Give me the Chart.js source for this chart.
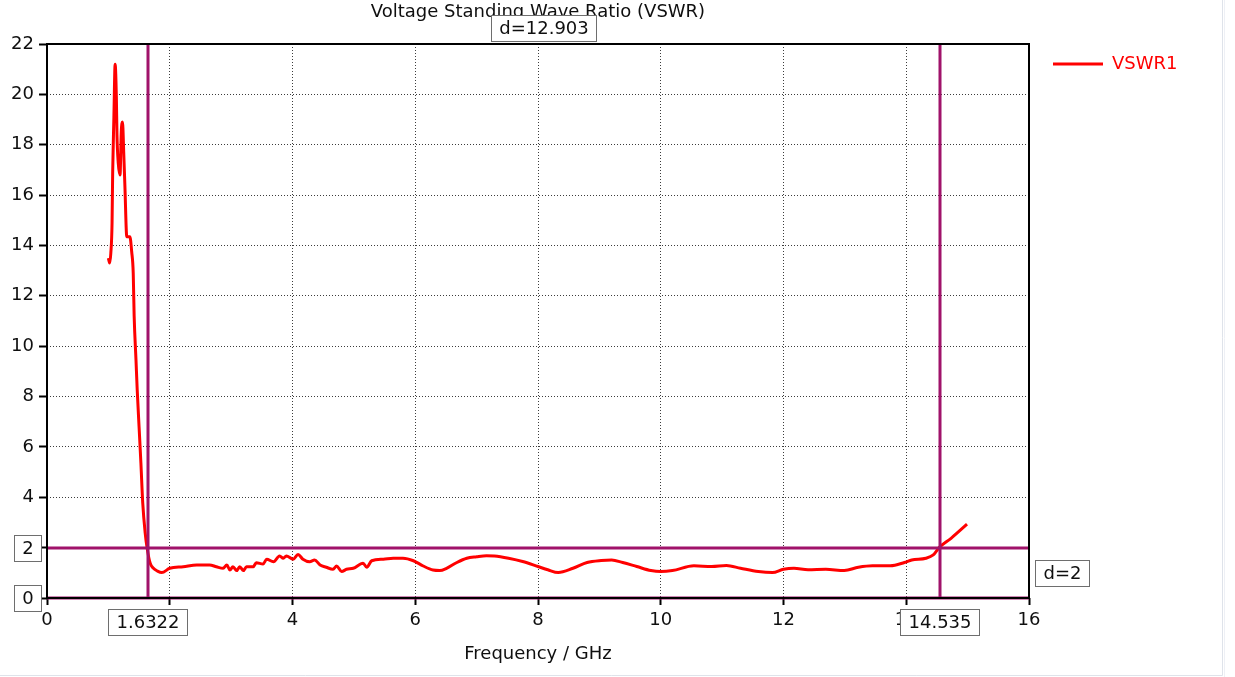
<!DOCTYPE html>
<html>
<head>
<meta charset="utf-8">
<title>Voltage Standing Wave Ratio (VSWR)</title>
<script src="https://cdn.jsdelivr.net/npm/chart.js@4/dist/chart.umd.min.js"></script>
<style>
  html, body { margin: 0; padding: 0; background: #ffffff; }
  #wrap { width: 1235px; height: 677px; position: relative; }
  canvas { display: block; }
</style>
</head>
<body>
<div id="wrap"><canvas id="vswr" width="1235" height="677"></canvas></div>
<script>
// Frequency sweep (GHz) and the measured VSWR at each frequency
const freqGHz = [
  1.00, 1.02, 1.04, 1.06, 1.07, 1.09, 1.11, 1.13, 1.14, 1.16, 1.19, 1.21, 1.23, 1.25, 1.27,
  1.30, 1.35, 1.38, 1.405, 1.42, 1.45, 1.47, 1.50, 1.53, 1.56, 1.60, 1.63, 1.68, 1.73, 1.80,
  1.87, 2.00, 2.22, 2.44, 2.65, 2.76, 2.87, 2.93, 2.98, 3.03, 3.09, 3.14, 3.20, 3.25, 3.36,
  3.41, 3.52, 3.58, 3.69, 3.79, 3.85, 3.90, 4.01, 4.09, 4.17, 4.28, 4.36, 4.45, 4.55, 4.66,
  4.72, 4.80, 4.88, 4.99, 5.15, 5.21, 5.29, 5.48, 5.64, 5.80, 5.97, 6.13, 6.29, 6.40, 6.51,
  6.67, 6.84, 7.00, 7.16, 7.29, 7.52, 7.75, 8.00, 8.16, 8.33, 8.57, 8.80, 9.03, 9.20, 9.38,
  9.61, 9.84, 10.00, 10.19, 10.54, 10.83, 11.07, 11.30, 11.59, 11.82, 12.00, 12.17, 12.40, 12.69, 12.99,
  13.22, 13.45, 13.74, 13.97, 14.09, 14.32, 14.44, 14.535, 14.73, 14.99
];
const vswr1 = [
  13.5, 13.3, 13.7, 14.9, 16.9, 19.1, 21.2, 19.9, 18.4, 17.3, 16.8, 18.5, 18.9, 17.7, 16.3,
  14.35, 14.35, 13.75, 12.9, 11.2, 9.45, 8.26, 6.8, 5.36, 3.77, 2.58, 2.0, 1.39, 1.19, 1.07,
  1.01, 1.18, 1.24, 1.31, 1.31, 1.24, 1.18, 1.31, 1.11, 1.24, 1.09, 1.24, 1.09, 1.24, 1.24,
  1.40, 1.35, 1.54, 1.44, 1.67, 1.58, 1.67, 1.54, 1.73, 1.54, 1.44, 1.51, 1.31, 1.22, 1.14,
  1.27, 1.05, 1.14, 1.18, 1.38, 1.22, 1.48, 1.54, 1.58, 1.58, 1.48, 1.27, 1.11, 1.09, 1.18,
  1.40, 1.58, 1.64, 1.68, 1.67, 1.58, 1.45, 1.25, 1.12, 1.01, 1.18, 1.41, 1.49, 1.51, 1.41,
  1.25, 1.09, 1.05, 1.09, 1.28, 1.25, 1.29, 1.18, 1.05, 1.01, 1.14, 1.18, 1.12, 1.14, 1.09,
  1.22, 1.28, 1.28, 1.41, 1.51, 1.58, 1.71, 2.0, 2.37, 2.93
];

// Axis ranges and tick steps
const xRange = [0, 16];
const xStep = 2;
const yRange = [0, 22];
const yStep = 2;

// Cursor markers: two frequency cursors and two VSWR level cursors
const markerFreqs = [1.6322, 14.535];
const markerLevels = [2, 0];

const seriesName = 'VSWR1';
const chartTitle = 'Voltage Standing Wave Ratio (VSWR)';
const xTitle = 'Frequency / GHz';

const FONT = '"DejaVu Sans", Verdana, sans-serif';
const TEXT = '#0f0f0f';
const MARKER = '#a0136a';

function labelBox(ctx, text, cx, cy) {
  ctx.save();
  ctx.font = '18px ' + FONT;
  const w = ctx.measureText(text).width;
  const bw = Math.round(w + 16), bh = 26;
  const x0 = Math.round(cx - bw / 2) + 0.5, y0 = Math.round(cy - bh / 2) + 0.5;
  ctx.fillStyle = '#ffffff';
  ctx.fillRect(x0, y0, bw, bh);
  ctx.strokeStyle = '#6e6e6e';
  ctx.lineWidth = 1;
  ctx.strokeRect(x0, y0, bw, bh);
  ctx.fillStyle = TEXT;
  ctx.textAlign = 'center';
  ctx.textBaseline = 'middle';
  ctx.fillText(text, x0 + bw / 2, y0 + bh / 2 + 1);
  ctx.restore();
}

// Frame, cursor lines, readout boxes, title and legend
const decorations = {
  id: 'decorations',
  afterDatasetsDraw(chart) {
    const { ctx, chartArea: a, scales: { x, y } } = chart;
    ctx.save();
    // cursor lines
    ctx.strokeStyle = MARKER;
    ctx.lineWidth = 3;
    markerLevels.forEach(v => {
      const py = Math.round(y.getPixelForValue(v));
      ctx.beginPath(); ctx.moveTo(a.left, py); ctx.lineTo(a.right, py); ctx.stroke();
    });
    markerFreqs.forEach(f => {
      const px = Math.round(x.getPixelForValue(f)) + 1;
      ctx.beginPath(); ctx.moveTo(px, a.top); ctx.lineTo(px, a.bottom); ctx.stroke();
    });
    // plot frame
    ctx.strokeStyle = '#000000';
    ctx.lineWidth = 2;
    ctx.strokeRect(a.left, a.top, a.right - a.left, a.bottom - a.top);
    ctx.restore();
  },
  afterDraw(chart) {
    const { ctx, chartArea: a, scales: { x, y } } = chart;
    const midX = (a.left + a.right) / 2;

    ctx.save();
    ctx.font = '18px ' + FONT;
    ctx.fillStyle = TEXT;
    ctx.textAlign = 'center';
    ctx.textBaseline = 'middle';
    ctx.fillText(chartTitle, midX, 12);
    ctx.fillText(xTitle, midX, 654);

    // legend
    ctx.strokeStyle = '#ff0000';
    ctx.lineWidth = 3;
    ctx.beginPath(); ctx.moveTo(1053, 64); ctx.lineTo(1103, 64); ctx.stroke();
    ctx.fillStyle = '#ff0000';
    ctx.textAlign = 'left';
    ctx.fillText(seriesName, 1112, 64);

    // outer window edge
    ctx.strokeStyle = '#dfe3ea';
    ctx.lineWidth = 1;
    ctx.beginPath(); ctx.moveTo(1222.5, 0); ctx.lineTo(1222.5, 675.5); ctx.lineTo(0, 675.5); ctx.stroke();
    ctx.strokeStyle = '#eef0f5';
    ctx.beginPath(); ctx.moveTo(1224.5, 0); ctx.lineTo(1224.5, 677); ctx.stroke();
    ctx.restore();

    // cursor readouts
    markerLevels.forEach(v => {
      const py = y.getPixelForValue(v);
      ctx.save();
      ctx.font = '18px ' + FONT;
      const w = ctx.measureText(String(v)).width;
      ctx.restore();
      labelBox(ctx, String(v), 33 - w / 2, py);
    });
    markerFreqs.forEach(f => {
      labelBox(ctx, String(f), x.getPixelForValue(f), 622);
    });
    const dx = Math.abs(markerFreqs[1] - markerFreqs[0]);
    const dy = Math.abs(markerLevels[0] - markerLevels[1]);
    labelBox(ctx, 'd=' + dx.toFixed(3), (x.getPixelForValue(markerFreqs[0]) + x.getPixelForValue(markerFreqs[1])) / 2, 28);
    ctx.save();
    ctx.font = '18px ' + FONT;
    const wdy = ctx.measureText('d=' + dy).width;
    ctx.restore();
    labelBox(ctx, 'd=' + dy, a.right + 6 + (wdy + 16) / 2, (y.getPixelForValue(markerLevels[0]) + y.getPixelForValue(markerLevels[1])) / 2);
  }
};

new Chart(document.getElementById('vswr'), {
  type: 'line',
  data: {
    datasets: [{
      label: seriesName,
      data: freqGHz.map((f, i) => ({ x: f, y: vswr1[i] })),
      borderColor: '#ff0000',
      borderWidth: 3,
      pointRadius: 0,
      cubicInterpolationMode: 'monotone',
      fill: false
    }]
  },
  options: {
    responsive: false,
    animation: false,
    events: [],
    layout: { padding: { top: 44, left: 0, right: 206, bottom: 0 } },
    plugins: { legend: { display: false }, title: { display: false }, tooltip: { enabled: false } },
    scales: {
      x: {
        type: 'linear',
        min: xRange[0], max: xRange[1],
        afterFit(scale) { scale.height = 79; },
        ticks: { stepSize: xStep, color: TEXT, font: { family: FONT, size: 18 }, padding: 5, maxRotation: 0 },
        grid: { color: '#3c3c3c', lineWidth: 1, tickLength: 7, tickColor: '#000000', tickWidth: 2 },
        border: { display: false, dash: [1, 2] }
      },
      y: {
        type: 'linear',
        min: yRange[0], max: yRange[1],
        afterFit(scale) { scale.width = 47; },
        ticks: { stepSize: yStep, color: TEXT, font: { family: FONT, size: 18 }, padding: 5 },
        grid: { color: '#3c3c3c', lineWidth: 1, tickLength: 8, tickColor: '#000000', tickWidth: 2 },
        border: { display: false, dash: [1, 2] }
      }
    }
  },
  plugins: [decorations]
});
</script>
</body>
</html>
